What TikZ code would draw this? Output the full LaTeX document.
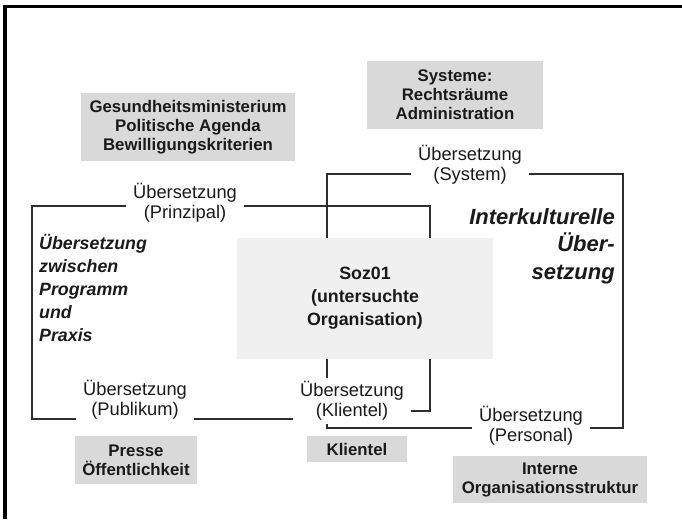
\documentclass[tikz,border=0pt]{standalone}
\usepackage{fontspec}
\setmainfont{Liberation Sans}
\usetikzlibrary{backgrounds}
\definecolor{boxgray}{HTML}{D9D9D9}
\definecolor{centergray}{HTML}{F0F0F0}
\definecolor{linegray}{HTML}{2E2E2E}
\definecolor{txt}{HTML}{1A1A1A}
\begin{document}
\begin{tikzpicture}[x=1pt,y=-1pt,
  graybox/.style={fill=boxgray, draw=none, align=center, text=txt,
    font=\fontsize{16.8}{19}\selectfont\bfseries, inner sep=0pt},
  centerbox/.style={fill=centergray, draw=none, align=center, text=txt,
    font=\fontsize{17.8}{23}\selectfont\bfseries, inner sep=0pt},
  lab/.style={fill=white, inner xsep=7pt, inner ysep=3pt, align=center, text=txt,
    font=\fontsize{18.3}{20}\selectfont},
  conn/.style={draw=linegray, line width=1.8pt},
  ital/.style={inner sep=0pt, text=txt, font=\fontsize{17.8}{23}\selectfont\bfseries\itshape},
  bigital/.style={inner sep=0pt, text=txt, font=\fontsize{22}{27.5}\selectfont\bfseries\itshape}
]
\useasboundingbox (0,0) rectangle (682,519);
% frame
\draw[line width=3.5pt, black] (5,519) -- (5,6.5) -- (682,6.5);

% gray boxes
\node[graybox, minimum width=214pt, minimum height=68pt] (gesund) at (188,127)
  {Gesundheitsministerium\\Politische Agenda\\Bewilligungskriterien};
\node[graybox, minimum width=176pt, minimum height=68pt] (system) at (455,95)
  {Systeme:\\Rechtsräume\\Administration};
\node[graybox, minimum width=122pt, minimum height=48pt] (presse) at (136,460)
  {Presse\\Öffentlichkeit};
\node[graybox, minimum width=100pt, minimum height=26pt] (klbox) at (357,449)
  {Klientel};
\node[graybox, minimum width=194pt, minimum height=47pt] (interne) at (550,479.5)
  {Interne\\Organisationsstruktur};

% central box
\node[centerbox, minimum width=256pt, minimum height=121pt] (soz) at (365,298)
  {Soz01\\(untersuchte\\Organisation)};

% labels
\node[lab] (prinz) at (185,203) {Übersetzung\\(Prinzipal)};
\node[lab] (sysl) at (470,165) {Übersetzung\\(System)};
\node[lab] (publ) at (135,400) {Übersetzung\\(Publikum)};
\node[lab] (klient) at (352,401) {Übersetzung\\(Klientel)};
\node[lab] (pers) at (531,426) {Übersetzung\\(Personal)};

% italic texts
\node[ital, anchor=west, align=left] (links) at (39,287.5)
  {Übersetzung\\zwischen\\Programm\\und\\Praxis};
\node[bigital, anchor=east, align=right] (rechts) at (615,246)
  {Interkulturelle\\Über-\\setzung};

% corner coordinates
\coordinate (pTL) at (32,206);
\coordinate (pBL) at (32,419);
\coordinate (pTR) at (430,206);
\coordinate (pBR) at (430,411);
\coordinate (sTL) at (327,174);
\coordinate (sTR) at (623,174);
\coordinate (sBR) at (623,428);
\coordinate (sBL) at (327,428);

\begin{pgfonlayer}{background}
  \fill[white] (0,0) rectangle (682,519);
  \draw[conn] (prinz.west |- pTL) -- (pTL) -- (pBL) -- (publ.west |- pBL);
  \draw[conn] (prinz.east |- pTR) -- (pTR) -- (pBR) -- (klient.east |- pBR);
  \draw[conn] (publ.east |- pBL) -- (klient.west |- pBL);
  \draw[conn] (sysl.west |- sTL) -- (sTL) -- (sBL) -- (pers.west |- sBL);
  \draw[conn] (sysl.east |- sTR) -- (sTR) -- (sBR) -- (pers.east |- sBR);
\end{pgfonlayer}
\end{tikzpicture}
\end{document}
